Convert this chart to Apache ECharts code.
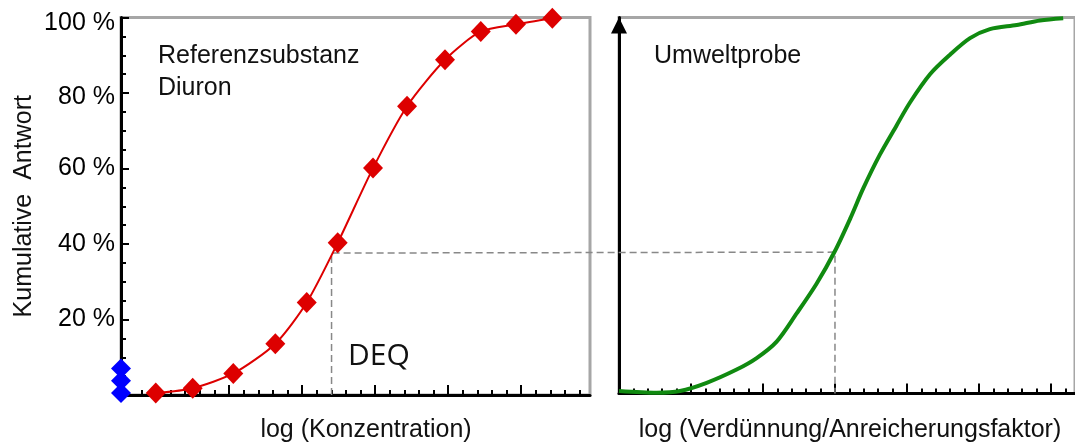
<!DOCTYPE html>
<html><head><meta charset="utf-8">
<script src="https://cdn.jsdelivr.net/npm/echarts@6/dist/echarts.min.js"></script>
<style>html,body{margin:0;padding:0;background:#fff}#c{width:1075px;height:448px}</style>
</head><body><div id="c"></div>
<script>
// Reference substance (Diuron): log concentration (axis units) vs cumulative response (%)
const refX = [4.98, 7.51, 10.29, 13.17, 15.32, 17.44, 19.86, 22.19, 24.79, 27.24, 29.65, 32.14];
const refY = [0.5, 1.8, 5.7, 13.6, 24.5, 40.3, 60.1, 76.5, 88.8, 96.3, 98.2, 99.8];
// Control / blank responses sitting on the y axis
const blankX = [2.6, 2.6, 2.6];
const blankY = [0.5, 3.8, 7.0];
// Environmental sample: log(dilution/enrichment factor) vs cumulative response (%)
const sampleX = [0, 2.62, 4.24, 6.09, 8.17, 9.56, 10.95, 12.34, 13.72, 15.0, 16.08, 16.97, 18.1, 19.28, 20.21, 21.6, 22.99, 24.38, 25.76, 27.62, 29.24, 30.85];
const sampleY = [0.66, 0.2, 0.66, 2.84, 6.37, 9.42, 13.8, 21.3, 29.2, 37.9, 46.7, 54.6, 63.4, 71.3, 77.4, 84.9, 90.1, 94.5, 96.9, 98.0, 99.2, 99.8];
// DEQ construction
const deqLevel = 37.6;
const deqRefX = 17.02;
const deqSampleX = 15.0;
// Axis ranges and tick values
const yMax = 100;
const refXMin = 2.6, refXMax = 34.72;
const refMajorTicks = [5, 10, 15, 20, 25, 30];
const refMinorTicks = [3, 4, 6, 7, 8, 9, 11, 12, 13, 14, 16, 17, 18, 19, 21, 22, 23, 24, 26, 27, 28, 29, 31, 32, 33, 34];
const sampleXMax = 31.67;
const sampleMajorTicks = [5, 10, 15, 20, 25, 30];
const sampleMinorTicks = [1, 2, 3, 4, 6, 7, 8, 9, 11, 12, 13, 14, 16, 17, 18, 19, 21, 22, 23, 24, 26, 27, 28, 29, 31];
// Texts
const yTitle = 'Kumulative  Antwort';
const xTitleRef = 'log (Konzentration)';
const xTitleSample = 'log (Verdünnung/Anreicherungsfaktor)';
const panelRef = 'Referenzsubstanz\nDiuron';
const panelSample = 'Umweltprobe';
const deqLabel = 'DEQ';

const FONT = '"Liberation Sans", Arial, sans-serif';
const chart = echarts.init(document.getElementById('c'), null, {renderer: 'canvas'});

const zip = (xs, ys) => xs.map((x, i) => [x, ys[i]]);
const tickLine = {color: '#000', width: 2};

const option = {
  animation: false,
  backgroundColor: '#fff',
  title: [
    {text: panelRef, left: 153, top: 35, textStyle: {fontFamily: FONT, fontSize: 25, fontWeight: 'normal', color: '#111', lineHeight: 32}},
    {text: panelSample, left: 649, top: 35, textStyle: {fontFamily: FONT, fontSize: 25, fontWeight: 'normal', color: '#111', lineHeight: 32}},
    {text: deqLabel, left: 343, top: 336, textStyle: {fontFamily: '"Open Sans", "Noto Sans", sans-serif', fontSize: 30, fontWeight: 'normal', color: '#111', lineHeight: 30}}
  ],
  grid: [
    {left: 121, top: 17.5, width: 469, height: 380, show: true, borderColor: '#a6a6a6', borderWidth: 3, backgroundColor: 'transparent'},
    {left: 619, top: 17.5, width: 456, height: 380, show: true, borderColor: '#a6a6a6', borderWidth: 3, backgroundColor: 'transparent'}
  ],
  xAxis: [
    {
      type: 'value', gridIndex: 0, position: 'bottom', min: refXMin, max: refXMax,
      name: xTitleRef, nameLocation: 'middle', nameGap: 23,
      nameTextStyle: {fontFamily: FONT, fontSize: 25, color: '#111', padding: [0, 0, 0, 21]},
      axisLine: {show: true, lineStyle: {color: '#000', width: 3}},
      axisTick: {show: true, inside: true, length: 10, customValues: refMajorTicks, lineStyle: tickLine},
      axisLabel: {show: false}, splitLine: {show: false}
    },
    {
      type: 'value', gridIndex: 0, position: 'bottom', min: refXMin, max: refXMax,
      axisLine: {show: false},
      axisTick: {show: true, inside: true, length: 5, customValues: refMinorTicks, lineStyle: tickLine},
      axisLabel: {show: false}, splitLine: {show: false}
    },
    {
      type: 'value', gridIndex: 1, position: 'bottom', min: 0, max: sampleXMax,
      name: xTitleSample, nameLocation: 'middle', nameGap: 24.5,
      nameTextStyle: {fontFamily: FONT, fontSize: 25, color: '#111', padding: [0, 0, 0, 6]},
      axisLine: {show: true, lineStyle: {color: '#000', width: 3}},
      axisTick: {show: true, inside: true, length: 10, customValues: sampleMajorTicks, lineStyle: tickLine},
      axisLabel: {show: false}, splitLine: {show: false}
    },
    {
      type: 'value', gridIndex: 1, position: 'bottom', min: 0, max: sampleXMax,
      axisLine: {show: false},
      axisTick: {show: true, inside: true, length: 5, customValues: sampleMinorTicks, lineStyle: tickLine},
      axisLabel: {show: false}, splitLine: {show: false}
    }
  ],
  yAxis: [
    {
      type: 'value', gridIndex: 0, min: 0, max: yMax, interval: 20,
      name: yTitle, nameLocation: 'middle', nameGap: 84,
      nameTextStyle: {fontFamily: FONT, fontSize: 25, color: '#111'},
      axisLine: {show: true, lineStyle: {color: '#000', width: 3}},
      axisTick: {show: true, inside: true, length: 8, lineStyle: tickLine},
      minorTick: {show: true, splitNumber: 4, length: 5, lineStyle: tickLine},
      axisLabel: {
        margin: 6, fontFamily: FONT, fontSize: 25, color: '#000',
        formatter: v => v === 0 ? '' : (v === 100 ? '{a|' + v + ' %}' : (v === 80 ? '{b|' + v + ' %}' : v + ' %')),
        rich: {
          a: {fontFamily: FONT, fontSize: 25, color: '#000', padding: [12, 0, 0, 0]},
          b: {fontFamily: FONT, fontSize: 25, color: '#000', padding: [8, 0, 0, 0]}
        }
      },
      splitLine: {show: false}, minorSplitLine: {show: false}
    },
    {
      type: 'value', gridIndex: 1, min: 0, max: yMax,
      axisLine: {show: true, symbol: ['none', 'triangle'], symbolSize: [16, 16], symbolOffset: [0, -8], lineStyle: {color: '#000', width: 3}},
      axisTick: {show: false}, axisLabel: {show: false}, splitLine: {show: false}
    }
  ],
  series: [
    {
      name: 'Diuron', type: 'line', xAxisIndex: 0, yAxisIndex: 0,
      data: zip(refX, refY), smooth: 0.25, clip: false,
      symbol: 'diamond', symbolSize: [20, 21],
      itemStyle: {color: '#dd0000'}, lineStyle: {color: '#dd0000', width: 2}, z: 5
    },
    {
      name: 'Kontrolle', type: 'line', xAxisIndex: 0, yAxisIndex: 0,
      data: zip(blankX, blankY), clip: false,
      symbol: 'diamond', symbolSize: [20, 20], showSymbol: true,
      lineStyle: {width: 0, opacity: 0},
      itemStyle: {color: '#0000ff'}, z: 6
    },
    {
      name: 'Umweltprobe', type: 'line', xAxisIndex: 2, yAxisIndex: 1,
      data: zip(sampleX, sampleY), smooth: 0.3, clip: false, showSymbol: false,
      lineStyle: {color: '#108a10', width: 4}, z: 5
    }
  ]
};
chart.setOption(option);

// Dashed DEQ construction line, positioned via the chart's own coordinate systems
const p1 = chart.convertToPixel({xAxisIndex: 0, yAxisIndex: 0}, [deqRefX, 0]);
const p2 = chart.convertToPixel({xAxisIndex: 0, yAxisIndex: 0}, [deqRefX, deqLevel]);
const p3 = chart.convertToPixel({xAxisIndex: 2, yAxisIndex: 1}, [deqSampleX, deqLevel]);
const p4 = chart.convertToPixel({xAxisIndex: 2, yAxisIndex: 1}, [deqSampleX, 0]);
chart.setOption({
  graphic: [{
    type: 'polyline', z: 1, silent: true,
    shape: {points: [p1, p2, p3, p4]},
    style: {stroke: '#888', lineWidth: 1.5, lineDash: [7, 4], fill: null}
  }]
});
</script>
</body></html>
